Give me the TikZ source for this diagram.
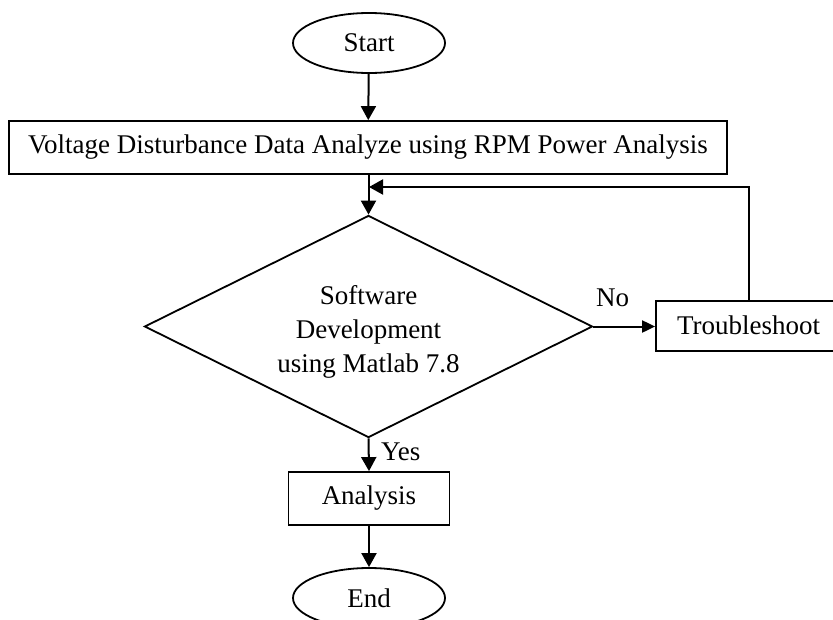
\documentclass[tikz,border=0pt]{standalone}
\usepackage{fontspec}
\setmainfont{Liberation Serif}
\usetikzlibrary{shapes.geometric,arrows.meta}
\begin{document}
\begin{tikzpicture}[x=1pt,y=-1pt,
  every node/.style={font=\fontsize{27}{34}\selectfont},
  line/.style={line width=2pt},
  flow/.style={line, -{Triangle[length=14pt,width=15pt]}},
  flowsmall/.style={line, -{Triangle[length=13pt,width=12pt]}},
  terminal/.style={ellipse, draw, line width=1.8pt, inner sep=0pt,
    minimum width=152pt, minimum height=60pt},
  procbox/.style={rectangle, draw, line width=1.8pt, inner sep=0pt},
  decision/.style={diamond, draw, line width=1.8pt, inner sep=0pt,
    aspect=2.02, minimum width=448pt, minimum height=222pt, align=center}]
\clip (0,0) rectangle (833,619);

% nodes
\node[terminal] (start) at (369,43) {Start};
\node[procbox, minimum width=718pt, minimum height=53pt] (data) at (368,147.5)
  {Voltage Disturbance Data Analyze using RPM Power Analysis};
\node[decision] (soft) at (368.5,326.5)
  {\rule{0pt}{30pt}Software\\Development\\using Matlab 7.8};
\node[procbox, minimum width=190pt, minimum height=50pt, text width=190pt,
  align=left] (trouble) at (751,325.7)
  {\hspace*{21pt}Troubleshoot};
\node[procbox, minimum width=161pt, minimum height=53pt] (analysis) at (369,498.5)
  {Analysis};
\node[terminal] (end) at (369,598) {End};

% join point of the feedback loop
\coordinate (loop) at (369,187);

% connectors
\draw[flow] (start) -- (data);
\draw[flow] (data.south -| soft.north) -- (soft.north);
\draw[flowsmall] (soft.east) -- (soft.east -| trouble.west);
\draw[flow] (749,300.7) |- (loop);
\draw[flow] (soft.south) -- (analysis.north);
\draw[flow] (analysis) -- (end);

% branch labels
\node[anchor=base west, inner sep=0pt] (no) at (596,306.5) {No};
\node[anchor=base west, inner sep=0pt] (yes) at (381,460) {Yes};
\end{tikzpicture}
\end{document}
